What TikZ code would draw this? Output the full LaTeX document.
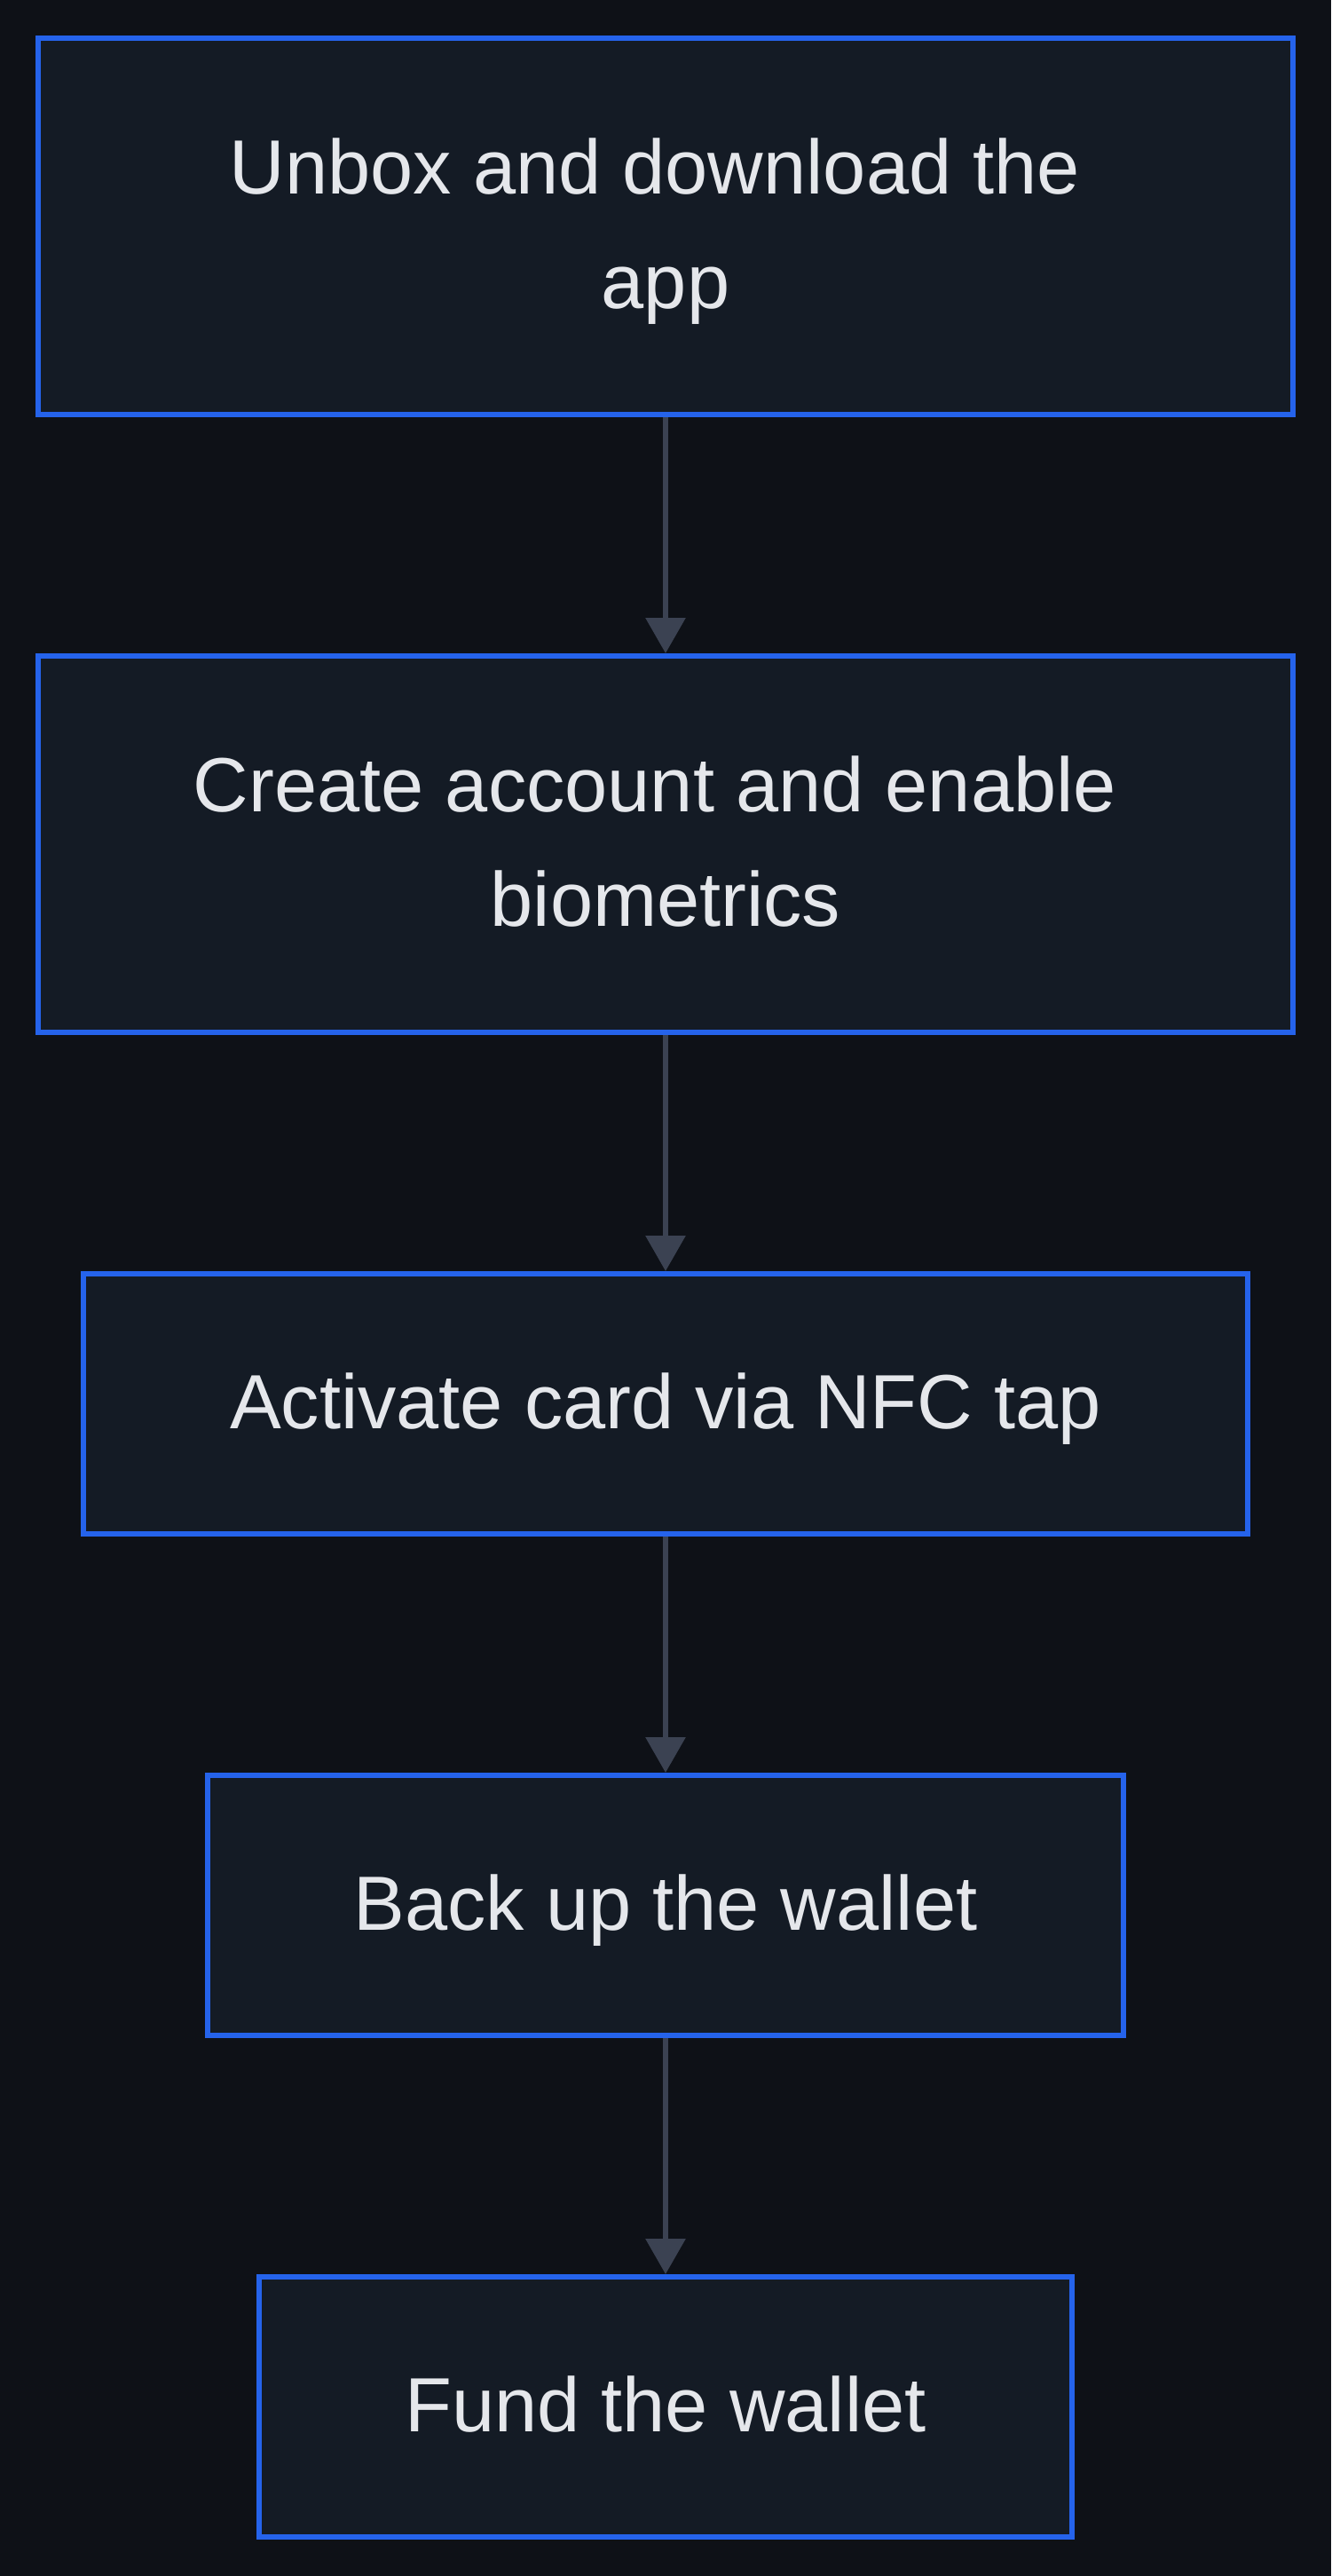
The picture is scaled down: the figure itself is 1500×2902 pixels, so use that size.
\documentclass[tikz,border=0pt]{standalone}
\usepackage{fontspec}
\setmainfont{Liberation Sans}
\usetikzlibrary{arrows.meta}
\definecolor{pagebg}{RGB}{14,17,23}
\definecolor{boxfill}{RGB}{20,27,37}
\definecolor{boxline}{RGB}{37,99,235}
\definecolor{flowline}{RGB}{59,66,82}
\definecolor{labeltext}{RGB}{229,231,235}

\begin{document}
\begin{tikzpicture}[x=0.5bp,y=0.5bp,yscale=-1,xscale=1,
	stepbox/.style={draw=boxline,line width=3bp,fill=boxfill,text=labeltext,align=center,inner sep=0bp,
		font=\fontsize{43.3bp}{64.5bp}\selectfont,text height=37.5bp,text depth=10bp},
	twoline/.style={text height=102bp},
	flow/.style={draw=flowline,line width=3bp,-{Triangle[length=20bp,width=22bp]}}]
	\fill[pagebg] (0,0) rectangle (1500,2902);
	\node (unbox) at (750,255.25) [stepbox,twoline,minimum width=706.5bp,minimum height=211.75bp] {Unbox and download the\hspace*{0.278em}\\app};
	\node (account) at (750,951) [stepbox,twoline,minimum width=706.5bp,minimum height=212bp] {Create account and enable\hspace*{0.278em}\\biometrics};
	\node (activate) at (750,1581.5) [stepbox,minimum width=656bp,minimum height=146.5bp] {Activate card via NFC tap};
	\node (backup) at (750,2146.5) [stepbox,minimum width=516bp,minimum height=146.5bp] {Back up the wallet};
	\node (fund) at (750,2711.5) [stepbox,minimum width=458bp,minimum height=146.5bp] {Fund the wallet};
	\draw [flow] (unbox) -- (account);
	\draw [flow] (account) -- (activate);
	\draw [flow] (activate) -- (backup);
	\draw [flow] (backup) -- (fund);
\end{tikzpicture}
\end{document}
